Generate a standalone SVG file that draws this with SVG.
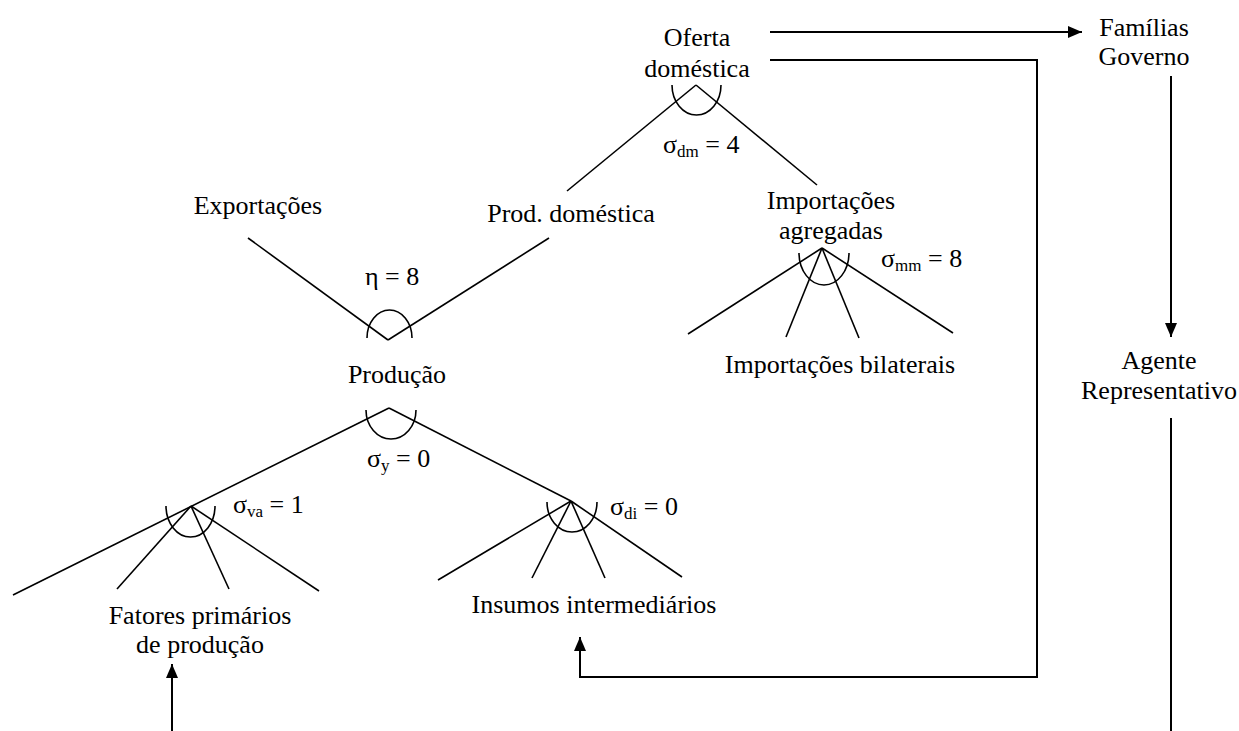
<svg xmlns="http://www.w3.org/2000/svg" width="1239" height="731" viewBox="0 0 1239 731" font-family="'Liberation Serif', 'Times New Roman', serif">
<style>
text{font-family:"Liberation Serif","Times New Roman",serif;font-size:26px;fill:#000}
.c{text-anchor:middle}
.sub{font-size:17px}
.e{stroke:#000;stroke-width:1.6;fill:none}
.a{stroke:#000;stroke-width:2;fill:none}
.arc{stroke:#000;stroke-width:1.6;fill:none}
</style>
<defs>
<marker id="ah" markerWidth="14" markerHeight="12" refX="14" refY="6" orient="auto" markerUnits="userSpaceOnUse">
<path d="M0,0 L14,6 L0,12 Z" fill="#000"/>
</marker>
</defs>
<g id="connectors">
<line class="e" x1="696" y1="85" x2="567" y2="191"/>
<line class="e" x1="696" y1="85" x2="817" y2="185"/>
<line class="e" x1="248" y1="238" x2="388" y2="340"/>
<line class="e" x1="388" y1="340" x2="549" y2="238"/>
<line class="e" x1="389" y1="408" x2="13" y2="595"/>
<line class="e" x1="389" y1="408" x2="571" y2="501"/>
<line class="e" x1="191" y1="506" x2="117" y2="589"/>
<line class="e" x1="191" y1="506" x2="229" y2="589"/>
<line class="e" x1="191" y1="506" x2="319" y2="591"/>
<line class="e" x1="571" y1="501" x2="438" y2="580"/>
<line class="e" x1="571" y1="501" x2="532" y2="578"/>
<line class="e" x1="571" y1="501" x2="605" y2="578"/>
<line class="e" x1="571" y1="501" x2="682" y2="577"/>
<line class="e" x1="822" y1="248" x2="688" y2="334"/>
<line class="e" x1="822" y1="248" x2="786" y2="337"/>
<line class="e" x1="822" y1="248" x2="859" y2="338"/>
<line class="e" x1="822" y1="248" x2="953" y2="333"/>
<line class="a" x1="770" y1="32" x2="1082" y2="32" marker-end="url(#ah)"/>
<path class="a" d="M770,60 H1037 V677 H580 V637" marker-end="url(#ah)"/>
<line class="a" x1="1171" y1="76" x2="1171" y2="337" marker-end="url(#ah)"/>
<line class="a" x1="1171" y1="418" x2="1171" y2="731"/>
<line class="a" x1="172" y1="731" x2="172" y2="664" marker-end="url(#ah)"/>
</g>
<g id="oferta">
<text class="c" x="697" y="46">Oferta</text>
<text class="c" x="697" y="77">doméstica</text>
<path class="arc" d="M672,85 A24.5,30 0 0 0 721,85"/>
<text x="663" y="153">σ<tspan class="sub" dy="4">dm</tspan><tspan dy="-4"> = 4</tspan></text>
</g>
<g id="familias">
<text class="c" x="1144" y="36">Famílias</text>
<text class="c" x="1144" y="65">Governo</text>
</g>
<g id="agente">
<text class="c" x="1159" y="369">Agente</text>
<text class="c" x="1159" y="399">Representativo</text>
</g>
<g id="exportacoes">
<text class="c" x="258" y="214">Exportações</text>
</g>
<g id="prod-domestica">
<text class="c" x="571" y="222">Prod. doméstica</text>
</g>
<g id="producao">
<path class="arc" d="M367,338 A22.5,28 0 0 1 412,338"/>
<text x="365" y="285">η = 8</text>
<text class="c" x="397" y="383">Produção</text>
<path class="arc" d="M366,410 A25,29 0 0 0 416,410"/>
<text x="367" y="467">σ<tspan class="sub" dy="4">y</tspan><tspan dy="-4"> = 0</tspan></text>
</g>
<g id="importacoes-agregadas">
<text class="c" x="831" y="209">Importações</text>
<text class="c" x="831" y="239">agregadas</text>
<path class="arc" d="M799,253 A25,32 0 0 0 849,253"/>
<text x="881" y="267">σ<tspan class="sub" dy="4">mm</tspan><tspan dy="-4"> = 8</tspan></text>
</g>
<g id="importacoes-bilaterais">
<text class="c" x="840" y="373">Importações bilaterais</text>
</g>
<g id="fatores">
<path class="arc" d="M166,506 A24.5,31 0 0 0 215,506"/>
<text x="233" y="513">σ<tspan class="sub" dy="4">va</tspan><tspan dy="-4"> = 1</tspan></text>
<text class="c" x="200" y="624">Fatores primários</text>
<text class="c" x="200" y="653">de produção</text>
</g>
<g id="insumos">
<path class="arc" d="M547,502 A25,30 0 0 0 597,502"/>
<text x="610" y="515">σ<tspan class="sub" dy="4">di</tspan><tspan dy="-4"> = 0</tspan></text>
<text class="c" x="594" y="613">Insumos intermediários</text>
</g>
</svg>
